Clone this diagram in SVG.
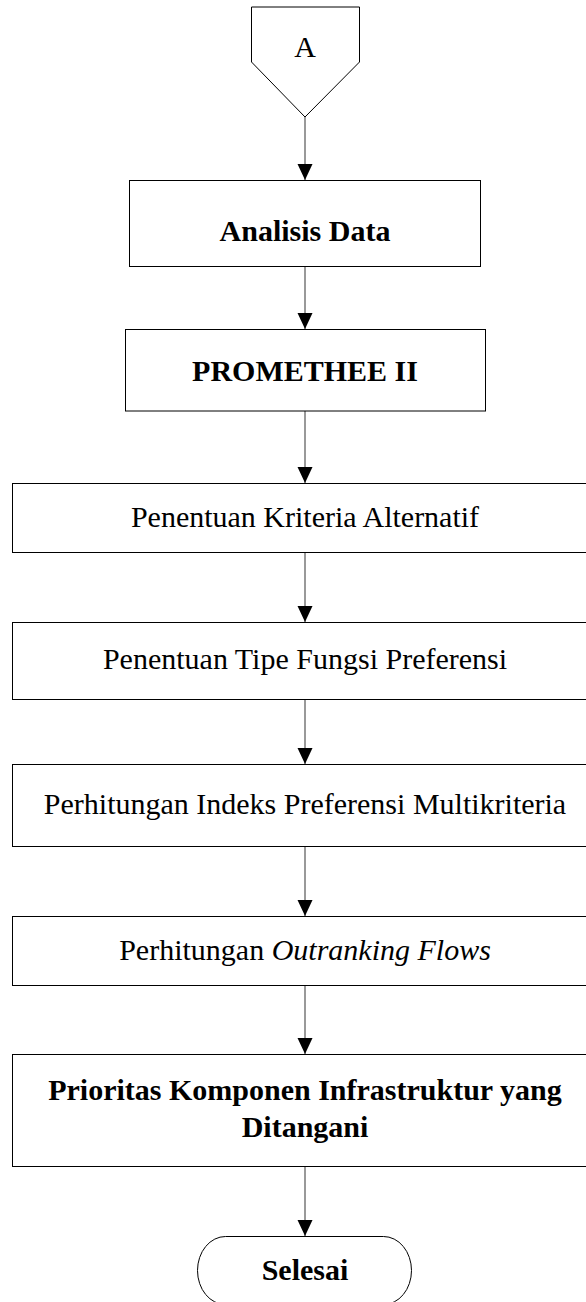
<svg xmlns="http://www.w3.org/2000/svg" width="586" height="1302" viewBox="0 0 586 1302">
<style>
.n{fill:#fff;stroke:#000;stroke-width:1}
.t{font-family:"Liberation Serif","Times New Roman",serif;font-size:30px;fill:#000;text-anchor:middle}
.b{font-weight:bold}
.c{stroke:#555;stroke-width:1.2;fill:none;marker-end:url(#ah)}
</style>
<defs>
<marker id="ah" markerUnits="userSpaceOnUse" markerWidth="16" markerHeight="16" viewBox="0 0 16 16" refX="16" refY="8" orient="auto">
<path d="M0,0.5 L16,8 L0,15.5 z" fill="#000"/>
</marker>
</defs>
<rect width="586" height="1302" fill="#fff"/>
<g id="connectors">
<line class="c" x1="305" y1="117" x2="305" y2="180"/>
<line class="c" x1="305" y1="267" x2="305" y2="329"/>
<line class="c" x1="305" y1="411" x2="305" y2="483"/>
<line class="c" x1="305" y1="552" x2="305" y2="622"/>
<line class="c" x1="305" y1="699" x2="305" y2="764"/>
<line class="c" x1="305" y1="846" x2="305" y2="916"/>
<line class="c" x1="305" y1="985" x2="305" y2="1054"/>
<line class="c" x1="305" y1="1167" x2="305" y2="1236"/>
</g>
<g id="node-A">
<polygon class="n" points="251.5,7 359.5,7 359.5,62 305,117 251.5,62"/>
<text class="t" x="305" y="57">A</text>
</g>
<g id="node-analisis">
<rect class="n" x="129.5" y="180.5" width="351" height="86"/>
<text class="t b" x="305" y="241">Analisis Data</text>
</g>
<g id="node-promethee">
<rect class="n" x="125.5" y="329.5" width="360" height="81.5"/>
<text class="t b" x="305" y="381">PROMETHEE II</text>
</g>
<g id="node-kriteria">
<rect class="n" x="12.5" y="483.5" width="585" height="69"/>
<text class="t" x="305" y="527">Penentuan Kriteria Alternatif</text>
</g>
<g id="node-tipe">
<rect class="n" x="12.5" y="622.5" width="585" height="77"/>
<text class="t" x="305" y="669">Penentuan Tipe Fungsi Preferensi</text>
</g>
<g id="node-indeks">
<rect class="n" x="12.5" y="764.5" width="585" height="82"/>
<text class="t" x="305" y="814">Perhitungan Indeks Preferensi Multikriteria</text>
</g>
<g id="node-flows">
<rect class="n" x="12.5" y="916.5" width="585" height="69"/>
<text class="t" x="305" y="960">Perhitungan <tspan font-style="italic">Outranking Flows</tspan></text>
</g>
<g id="node-prioritas">
<rect class="n" x="12.5" y="1054.5" width="585" height="112"/>
<text class="t b" x="305" y="1100">Prioritas Komponen Infrastruktur yang</text>
<text class="t b" x="305" y="1137">Ditangani</text>
</g>
<g id="node-selesai">
<rect class="n" x="197.5" y="1236.5" width="214" height="68" rx="28" ry="34"/>
<text class="t b" x="305" y="1280">Selesai</text>
</g>
</svg>
